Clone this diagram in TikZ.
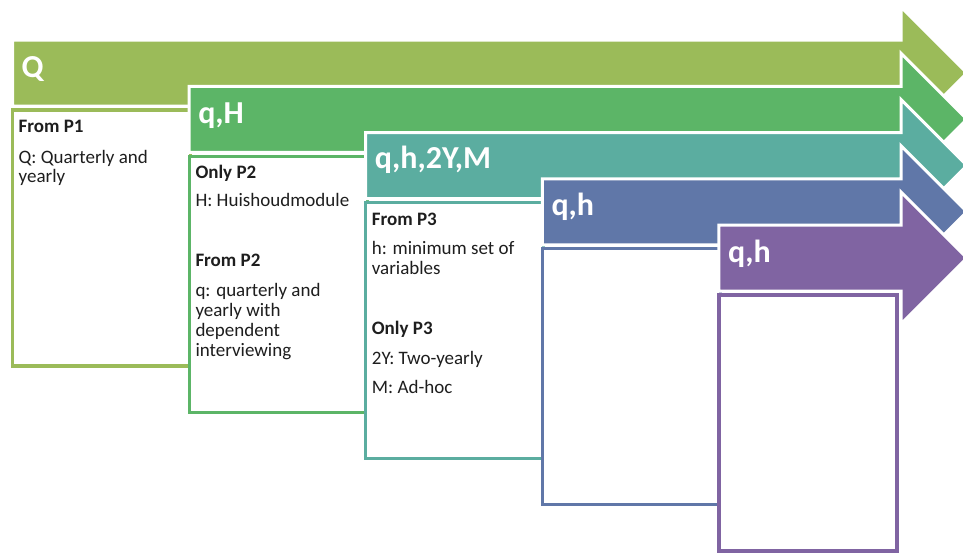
\documentclass[tikz,border=0pt]{standalone}
\usepackage{fontspec}
\setmainfont{Carlito}
\definecolor{cA}{HTML}{9BBB59}
\definecolor{cB}{HTML}{5CB567}
\definecolor{cC}{HTML}{5BADA0}
\definecolor{cD}{HTML}{6077A8}
\definecolor{cE}{HTML}{8064A2}
\definecolor{txt}{HTML}{1E1E1E}
\tikzset{
  arrowshape/.style={fill=#1, draw=white, line width=3pt, line join=miter},
  boxshape/.style={draw=#1, fill=white, line width=3.2pt, minimum width=178pt, minimum height=256pt, anchor=north west, inner sep=0pt, outer sep=0pt},
  lbl/.style={anchor=base west, inner sep=0pt, text=white, font=\fontsize{32}{38}\selectfont\bfseries},
  hd/.style={anchor=base west, inner sep=0pt, text=txt, font=\fontsize{19}{20}\selectfont\bfseries},
  bd/.style={anchor=base west, inner sep=0pt, text=txt, font=\fontsize{19}{20}\selectfont},
}
\begin{document}
\begin{tikzpicture}[x=1pt, y=-1pt]
\useasboundingbox (0,0) rectangle (963,554);
\clip (0,0) rectangle (963,554);
% ---- arrow 1 + box 1
\path[arrowshape=cA] (12.5,40) -- (901,40) -- (901,7) -- (967,73) -- (901,139) -- (901,106) -- (12.5,106) -- cycle;
\node[lbl] (l1) at (21.5,77) {Q};
\node[boxshape=cA] (b1) at (12.5,110) {};
\node[hd] (b1h1) at (18.5,132.3) {From P1};
\node[bd] (b1t1) at (18.5,163.3) {Q: Quarterly and};
\node[bd] (b1t2) at (18.5,182.7) {yearly};
% ---- arrow 2 + box 2
\path[arrowshape=cB] (189.1,86.25) -- (901,86.25) -- (901,53.25) -- (967,119.25) -- (901,185.25) -- (901,152.25) -- (189.1,152.25) -- cycle;
\node[lbl] (l2) at (198.1,123.25) {q,H};
\node[boxshape=cB] (b2) at (189.1,156.25) {};
\node[hd] (b2h1) at (195.3,178.3) {Only P2};
\node[bd] (b2t1) at (195.3,206.7) {H: Huishoudmodule};
\node[hd] (b2h2) at (195.3,266.7) {From P2};
\node[bd] (b2t2) at (195.3,296.7) {q: quarterly and};
\node[bd] (b2t3) at (195.3,316.2) {yearly with};
\node[bd] (b2t4) at (195.3,336) {dependent};
\node[bd] (b2t5) at (195.3,356) {interviewing};
% ---- arrow 3 + box 3
\path[arrowshape=cC] (365.7,132.5) -- (901,132.5) -- (901,99.5) -- (967,165.5) -- (901,231.5) -- (901,198.5) -- (365.7,198.5) -- cycle;
\node[lbl] (l3) at (374.7,168.5) {q,h,2Y,M};
\node[boxshape=cC] (b3) at (365.7,202.5) {};
\node[hd] (b3h1) at (371.7,225) {From P3};
\node[bd] (b3t1) at (371.7,254) {h: minimum set of};
\node[bd] (b3t2) at (371.7,274.5) {variables};
\node[hd] (b3h2) at (371.7,334) {Only P3};
\node[bd] (b3t3) at (371.7,364) {2Y: Two-yearly};
\node[bd] (b3t4) at (371.7,393.5) {M: Ad-hoc};
% ---- arrow 4 + box 4
\path[arrowshape=cD] (542.3,178.75) -- (901,178.75) -- (901,145.75) -- (967,211.75) -- (901,277.75) -- (901,244.75) -- (542.3,244.75) -- cycle;
\node[lbl] (l4) at (551.3,215.5) {q,h};
\node[boxshape=cD] (b4) at (542.3,248.75) {};
% ---- arrow 5 + box 5
\path[arrowshape=cE] (718.9,225) -- (901,225) -- (901,192) -- (967,258) -- (901,324) -- (901,291) -- (718.9,291) -- cycle;
\node[lbl] (l5) at (727.9,262.5) {q,h};
\node[boxshape=cE] (b5) at (718.9,295) {};
\end{tikzpicture}
\end{document}
